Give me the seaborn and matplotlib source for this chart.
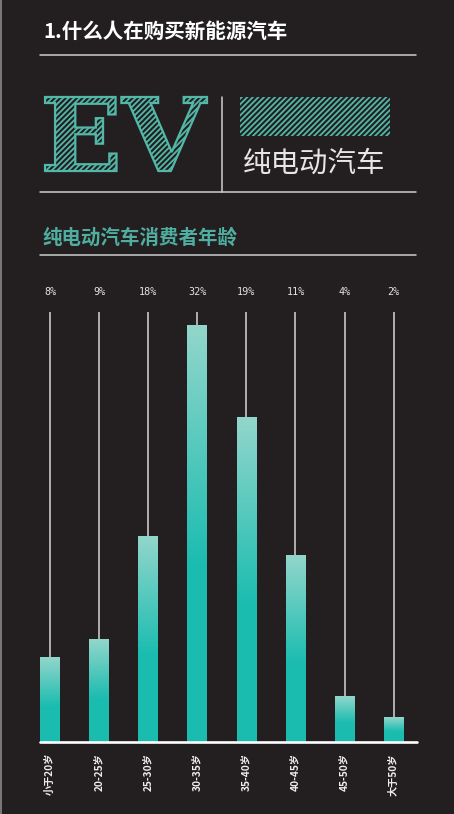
import numpy as np
import pandas as pd
import matplotlib
matplotlib.use('Agg')
import matplotlib.pyplot as plt
import seaborn as sns
from matplotlib.colors import LinearSegmentedColormap
from matplotlib.font_manager import FontProperties
from matplotlib.textpath import TextPath
from matplotlib.patches import PathPatch, Rectangle
from matplotlib.transforms import Affine2D

# data
age_groups = ['小于20岁', '20-25岁', '25-30岁', '30-35岁', '35-40岁', '40-45岁', '45-50岁', '大于50岁']
pct_labels = ['8%', '9%', '18%', '32%', '19%', '11%', '4%', '2%']
# bar heights as drawn (the 32% bar used as the reference)
bar_heights = [6.5, 7.9, 15.8, 32.0, 24.9, 14.3, 3.5, 1.9]

title = '1.什么人在购买新能源汽车'
ev_text = 'EV'
ev_caption = '纯电动汽车'
subtitle = '纯电动汽车消费者年龄'

BG = '#231f20'
TEAL = '#1bbcb0'
LIGHT = '#92d6cb'
HATCH = '#52b8a8'
RULE = '#cfcfcf'

sns.set_theme(style='dark')
plt.rcParams['font.family'] = ['Noto Sans CJK SC', 'DejaVu Sans']
plt.rcParams['hatch.linewidth'] = 1.3
plt.rcParams['axes.unicode_minus'] = False

fig = plt.figure(figsize=(4.54, 8.14), dpi=100, facecolor=BG)

# decoration layer in pixel coordinates
deco = fig.add_axes([0, 0, 1, 1], zorder=0)
deco.set_xlim(0, 454)
deco.set_ylim(814, 0)
deco.axis('off')
deco.add_patch(Rectangle((0, 0), 454, 814, facecolor=BG, edgecolor='none', zorder=0))
deco.plot([1, 1], [0, 814], color='#8a8a8a', lw=1.2)

deco.text(43, 31, title, color='white', fontsize=14.8, fontweight='bold', va='center', ha='left')
for yy in (55, 192, 255):
    deco.plot([40, 416], [yy, yy], color=RULE, lw=1.1)
deco.plot([221.5, 221.5], [97, 192], color=RULE, lw=1.1)

# hatched "EV" letters
tp = TextPath((0, 0), ev_text, size=100, prop=FontProperties(family='DejaVu Serif', weight='bold'))
v = tp.vertices
xmin, ymin = v[:, 0].min(), v[:, 1].min()
w, h = v[:, 0].max() - xmin, v[:, 1].max() - ymin
tr = Affine2D().translate(-xmin, -ymin).scale(167 / w, -74 / h).translate(40, 171)
deco.add_patch(PathPatch(tr.transform_path(tp), facecolor='none', edgecolor=HATCH,
                         hatch='//////', lw=1.6))
deco.add_patch(Rectangle((240, 97), 150, 39, facecolor='none', edgecolor=HATCH,
                         hatch='//////', lw=0))
deco.text(243, 164, ev_caption, color='#e6e6e6', fontsize=20.5, va='center', ha='left')
deco.text(42, 238, subtitle, color='#4fae9f', fontsize=14, fontweight='bold', va='center', ha='left')

# bar chart
ax = fig.add_axes([40 / 454, 72 / 814, 377 / 454, 430 / 814], zorder=1)
ax.set_facecolor('none')
df = pd.DataFrame({'age': age_groups, 'height': bar_heights})
sns.barplot(data=df, x='age', y='height', ax=ax, color=TEAL, width=0.4,
            saturation=1, linewidth=0)

ymax = 33.0
cmap = LinearSegmentedColormap.from_list('bar', [TEAL, LIGHT])
t = np.linspace(0, 1, 200)
grad = np.clip((t - 0.42) / 0.58, 0, 1)[:, None]
for p in ax.patches:
    x0, w0, h0 = p.get_x(), p.get_width(), p.get_height()
    ax.imshow(grad, extent=[x0, x0 + w0, 0, h0], origin='lower', cmap=cmap,
              vmin=0, vmax=1, aspect='auto', interpolation='bilinear', zorder=3)

pos = np.arange(len(age_groups))
ax.vlines(pos, bar_heights, ymax, colors='#d6d6d6', lw=1.1, zorder=2, clip_on=False)
for xi, lab in zip(pos, pct_labels):
    ax.text(xi, 34.5, lab, color='#e2e2e2', fontsize=7.3, ha='center', va='center',
            family='DejaVu Sans Mono', clip_on=False)

ax.axhline(0, color='white', lw=1.9, zorder=4, clip_on=False)
ax.set_xlim(-0.204, 7.475)
ax.set_ylim(0, ymax)
ax.set_xlabel('')
ax.set_ylabel('')
ax.set_yticks([])
ax.set_xticks(pos)
ax.set_xticklabels(age_groups, rotation=90, color='#eeeeee', fontsize=7.3, fontweight='bold')
ax.tick_params(axis='x', length=0, pad=8)
for s in ax.spines.values():
    s.set_visible(False)
ax.grid(False)

fig.savefig('out.png', dpi=100, facecolor=BG)
